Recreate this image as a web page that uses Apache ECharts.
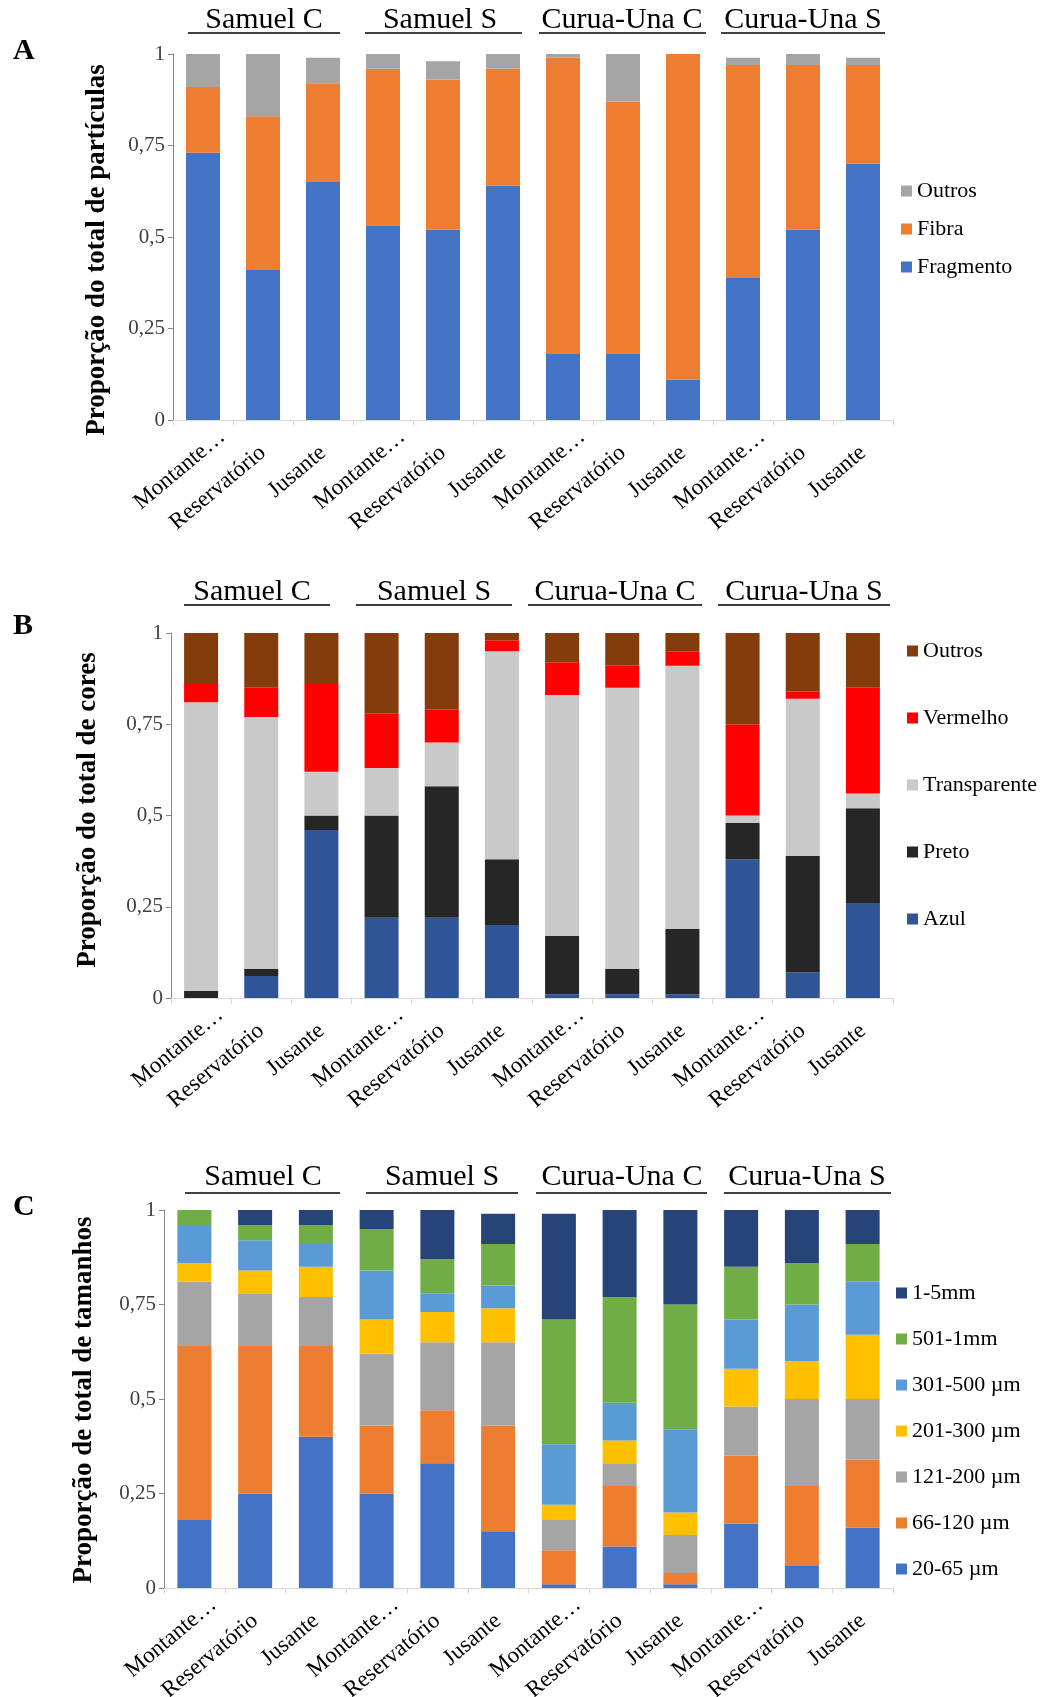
<!DOCTYPE html>
<html>
<head>
<meta charset="utf-8">
<script src="https://cdn.jsdelivr.net/npm/echarts@6/dist/echarts.min.js"></script>
<style>
html,body{margin:0;padding:0;background:#fff;}
#c{width:1049px;height:1697px;}
</style>
</head>
<body>
<div id="c"></div>
<script>
// ---------- data ----------
const groups = ['Samuel C', 'Samuel S', 'Curua-Una C', 'Curua-Una S'];
const sites = ['Montante…', 'Reservatório', 'Jusante'];
const yTicks = [0, 0.25, 0.5, 0.75, 1];

// A: tipos de partículas
const fragmentoA = [0.73, 0.41, 0.65, 0.53, 0.52, 0.64, 0.18, 0.18, 0.11, 0.39, 0.52, 0.70];
const fibraA     = [0.18, 0.42, 0.27, 0.43, 0.41, 0.32, 0.81, 0.69, 0.89, 0.58, 0.45, 0.27];
const outrosA    = [0.09, 0.17, 0.07, 0.04, 0.05, 0.04, 0.01, 0.13, 0.005, 0.02, 0.03, 0.02];

// B: cores
const azulB   = [0.00, 0.06, 0.46, 0.22, 0.22, 0.20, 0.01, 0.01, 0.01, 0.38, 0.07, 0.26];
const pretoB  = [0.02, 0.02, 0.04, 0.28, 0.36, 0.18, 0.16, 0.07, 0.18, 0.10, 0.32, 0.26];
const transpB = [0.79, 0.69, 0.12, 0.13, 0.12, 0.57, 0.66, 0.77, 0.72, 0.02, 0.43, 0.04];
const vermB   = [0.05, 0.08, 0.24, 0.15, 0.09, 0.03, 0.09, 0.06, 0.04, 0.25, 0.02, 0.29];
const outrosB = [0.14, 0.15, 0.14, 0.22, 0.21, 0.02, 0.08, 0.09, 0.05, 0.25, 0.16, 0.15];

// C: tamanhos
const s20_65   = [0.18, 0.25, 0.40, 0.25, 0.33, 0.15, 0.01, 0.11, 0.01, 0.17, 0.06, 0.16];
const s66_120  = [0.46, 0.39, 0.24, 0.18, 0.14, 0.28, 0.09, 0.16, 0.03, 0.18, 0.21, 0.18];
const s121_200 = [0.17, 0.14, 0.13, 0.19, 0.18, 0.22, 0.08, 0.06, 0.10, 0.13, 0.23, 0.16];
const s201_300 = [0.05, 0.06, 0.08, 0.09, 0.08, 0.09, 0.04, 0.06, 0.06, 0.10, 0.10, 0.17];
const s301_500 = [0.10, 0.08, 0.06, 0.13, 0.05, 0.06, 0.16, 0.10, 0.22, 0.13, 0.15, 0.14];
const s501_1mm = [0.04, 0.04, 0.05, 0.11, 0.09, 0.11, 0.33, 0.28, 0.33, 0.14, 0.11, 0.10];
const s1_5mm   = [0.00, 0.04, 0.04, 0.05, 0.13, 0.08, 0.28, 0.23, 0.25, 0.15, 0.14, 0.09];

const categories = groups.flatMap(() => sites);

// ---------- styling ----------
const SERIF = '"Liberation Serif", "Times New Roman", serif';
const panels = [
  { key: 'A', grid: { left: 173, top: 54, width: 720, height: 366 }, ylab: 'Proporção do total de partículas', ylabX: 97, ylabY: 250,
    letterY: 51, titleY: 20, lineY: 33,
    titles: [[264, 188, 340], [440, 365, 522], [622, 539, 706], [803, 721, 885]],
    legend: { left: 901, top: 180, itemGap: 16 },
    series: [['Fragmento', fragmentoA, '#4472C4'], ['Fibra', fibraA, '#ED7D31'], ['Outros', outrosA, '#A5A5A5']] },
  { key: 'B', grid: { left: 171, top: 633, width: 722, height: 365 }, ylab: 'Proporção do total de cores', ylabX: 88, ylabY: 810,
    letterY: 626, titleY: 592, lineY: 605,
    titles: [[252, 184, 330], [434, 356, 512], [615, 528, 702], [804, 718, 890]],
    legend: { left: 907, top: 640, itemGap: 45 },
    series: [['Azul', azulB, '#2F5597'], ['Preto', pretoB, '#262626'], ['Transparente', transpB, '#C9C9C9'], ['Vermelho', vermB, '#FF0000'], ['Outros ', outrosB, '#843C0C']] },
  { key: 'C', grid: { left: 164, top: 1210, width: 729, height: 378 }, ylab: 'Proporção de total de tamanhos', ylabX: 84, ylabY: 1400,
    letterY: 1207, titleY: 1177, lineY: 1193,
    titles: [[263, 185, 340], [442, 366, 518], [622, 536, 707], [807, 724, 891]],
    legend: { left: 896, top: 1282, itemGap: 24 },
    series: [['20-65 µm', s20_65, '#4472C4'], ['66-120 µm', s66_120, '#ED7D31'], ['121-200 µm', s121_200, '#A5A5A5'], ['201-300 µm', s201_300, '#FFC000'],
             ['301-500 µm', s301_500, '#5B9BD5'], ['501-1mm', s501_1mm, '#70AD47'], ['1-5mm', s1_5mm, '#264478']] }
];

const option = { animation: false, backgroundColor: '#fff', grid: [], xAxis: [], yAxis: [], series: [], legend: [], graphic: [] };

panels.forEach((p, i) => {
  option.grid.push(Object.assign({ containLabel: false, outerBoundsMode: 'none' }, p.grid));
  option.xAxis.push({
    type: 'category', gridIndex: i, data: categories,
    axisLine: { show: true, lineStyle: { color: '#D9D9D9', width: 1 } },
    axisTick: { show: true, alignWithLabel: false, length: 6, lineStyle: { color: '#D9D9D9' } },
    axisLabel: { interval: 0, rotate: 40, margin: 30, color: '#000', fontFamily: SERIF, fontSize: 23,
      formatter: v => (v === sites[0] ? '{m|' + v + '}' : v),
      rich: { m: { fontFamily: SERIF, fontSize: 23, color: '#000', padding: [0, -25, 0, 0] } } }
  });
  option.yAxis.push({
    type: 'value', gridIndex: i, min: 0, max: 1, interval: 0.25,
    splitLine: { show: false },
    axisLine: { show: true, lineStyle: { color: '#868686' } },
    axisTick: { show: true, length: 5, lineStyle: { color: '#868686' } },
    axisLabel: { color: '#404040', fontFamily: SERIF, fontSize: 21, margin: 8,
      formatter: v => (yTicks.indexOf(v) >= 0 ? String(v).replace('.', ',') : '') }
  });
  p.series.forEach(([name, data, color]) => {
    option.series.push({
      type: 'bar', name, data, stack: p.key, xAxisIndex: i, yAxisIndex: i,
      barWidth: 34, itemStyle: { color }, emphasis: { disabled: true }
    });
  });
  option.legend.push({
    orient: 'vertical', left: p.legend.left, top: p.legend.top, itemGap: p.legend.itemGap, padding: 0,
    icon: 'rect', itemWidth: 11, itemHeight: 11, selectedMode: false,
    data: p.series.map(s => s[0]).reverse(),
    textStyle: { fontFamily: SERIF, fontSize: 22, color: '#000', lineHeight: 22 }
  });
  // panel letter
  option.graphic.push({ type: 'text', left: 13, top: p.letterY - 15, style: { text: p.key, fontFamily: SERIF, fontWeight: 'bold', fontSize: 30, fill: '#000' } });
  // y axis title
  option.graphic.push({ type: 'text', x: p.ylabX, y: p.ylabY, rotation: Math.PI / 2,
    style: { text: p.ylab, fontFamily: SERIF, fontWeight: 'bold', fontSize: 27, fill: '#000', textAlign: 'center', textVerticalAlign: 'middle' } });
  // group titles with underlines
  p.titles.forEach(([cx, x1, x2], g) => {
    option.graphic.push({ type: 'text', x: cx, y: p.titleY,
      style: { text: groups[g], fontFamily: SERIF, fontSize: 30, fill: '#000', textAlign: 'center', textVerticalAlign: 'middle' } });
    option.graphic.push({ type: 'line', shape: { x1, y1: p.lineY, x2, y2: p.lineY }, style: { stroke: '#000', lineWidth: 1.3 } });
  });
});

const chart = echarts.init(document.getElementById('c'), null, { renderer: 'canvas' });
chart.setOption(option);
</script>
</body>
</html>
